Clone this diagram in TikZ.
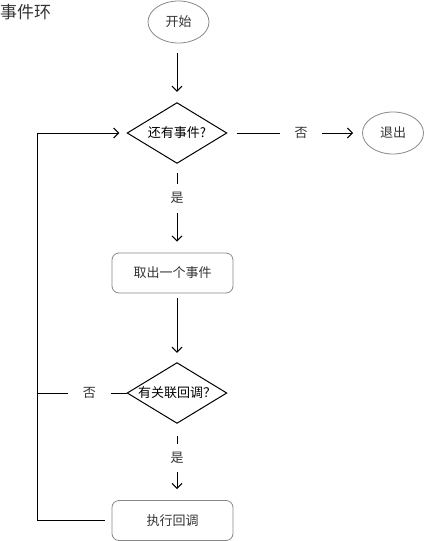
\documentclass[tikz,border=0pt]{standalone}
\usepackage{fontspec}
\setmainfont{Noto Sans CJK SC}
\usetikzlibrary{shapes.geometric,arrows.meta}
\definecolor{txt}{HTML}{333333}
\definecolor{gborder}{HTML}{888888}
\tikzset{
  arr/.style={-{Straight Barb[length=5pt,width=10pt]}, line width=1pt, black},
  conn/.style={line width=1pt, black},
  term/.style={ellipse, draw=gborder, line width=0.8pt, minimum width=61pt, minimum height=42pt, inner sep=0pt, text=txt, font=\fontsize{13pt}{15pt}\selectfont},
  proc/.style={rectangle, rounded corners=7pt, draw=gborder, line width=0.8pt, minimum width=121pt, minimum height=40pt, inner sep=0pt, text=txt, font=\fontsize{13pt}{15pt}\selectfont},
  dia/.style={rectangle, minimum width=99pt, minimum height=60pt, inner sep=0pt, text=black, font=\fontsize{13pt}{15pt}\selectfont},
  lbl/.style={fill=white, inner sep=0pt, text=txt, font=\fontsize{13pt}{15pt}\selectfont},
}
\begin{document}
\begin{tikzpicture}[x=1pt,y=-1pt]
\useasboundingbox (0,0) rectangle (424,541);
\node[anchor=west, inner sep=0pt, text=txt, font=\fontsize{17pt}{19pt}\selectfont] (title) at (0,12) {事件环};
\node[term] (start) at (178.5,22) {开始};
\node[dia] (d1) at (177,133) {还有事件?};
\draw[conn] (d1.north)--(d1.east)--(d1.south)--(d1.west)--cycle;
\node[term] (exit) at (393,133) {退出};
\node[proc] (b1) at (172.5,273) {取出一个事件};
\node[dia] (d2) at (177,393) {有关联回调？};
\draw[conn] (d2.north)--(d2.east)--(d2.south)--(d2.west)--cycle;
\node[proc] (b2) at (172.5,520.5) {执行回调};
\coordinate (loopx) at (37,0);

\draw[arr, shorten <=10pt, shorten >=11pt] (start.south -| d1.north) -- (d1.north);
\draw[arr, shorten <=10pt, shorten >=9pt] (d1.east) -- node[lbl, pos=0.55, minimum width=42pt, minimum height=14pt]{否} (exit.west);
\draw[arr, shorten <=10pt, shorten >=11pt] (d1.south) -- node[lbl, pos=0.39, minimum height=29pt, minimum width=14pt]{是} (d1.south |- b1.north);
\draw[arr, shorten <=5pt, shorten >=10pt] (b1.south -| d2.north) -- (d2.north);
\draw[arr, shorten <=13pt, shorten >=11pt] (d2.south) -- node[lbl, pos=0.45, minimum height=28pt, minimum width=14pt]{是} (d2.south |- b2.north);
\draw[conn] (d2.west) -- node[lbl, pos=0.42, minimum width=43pt, minimum height=14pt]{否} (d2.west -| loopx);
\draw[arr, shorten <=7pt, shorten >=8pt] (b2.west) -- (b2.west -| loopx) -- (d1.west -| loopx) -- (d1.west);
\end{tikzpicture}
\end{document}
